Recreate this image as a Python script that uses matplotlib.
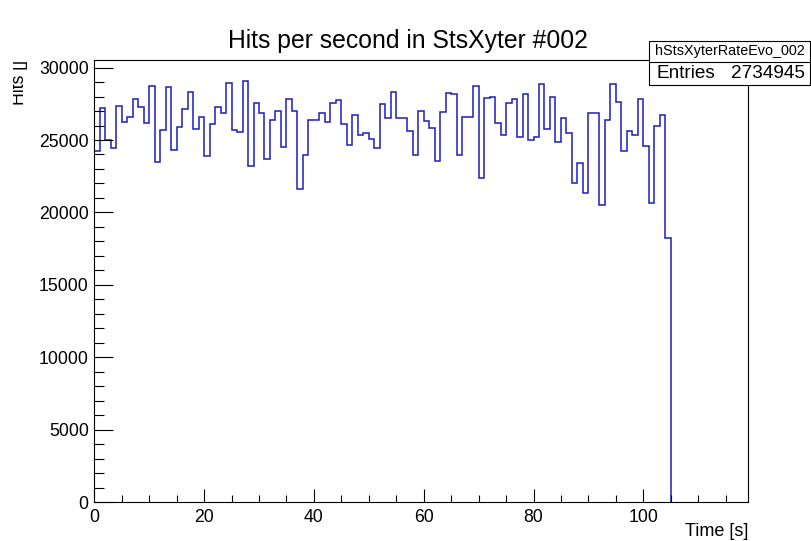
import numpy as np
import matplotlib
matplotlib.use('Agg')
import matplotlib.pyplot as plt
from matplotlib.ticker import MultipleLocator
from matplotlib.transforms import Bbox, TransformedBbox

# hits counted in each 1 s bin
hits = [24270, 27190, 25000, 24470, 27350, 26240, 26570, 27830, 27280, 26150,
        28750, 23510, 25670, 28640, 24310, 25920, 27120, 28320, 25740, 26570,
        23900, 26080, 27280, 26840, 28960, 25670, 25530, 29050, 23230, 27580,
        26840, 23670, 26380, 27030, 24540, 27830, 27030, 21600, 23970, 26380,
        26380, 26890, 26240, 27530, 27760, 26080, 24680, 26700, 25350, 25460,
        25070, 24470, 27460, 26540, 28340, 26540, 26540, 25650, 23970, 27030,
        26310, 25810, 23580, 26960, 28270, 28200, 23970, 26570, 26570, 28750,
        22360, 27920, 27990, 26150, 25350, 27530, 27830, 25230, 28180, 25000,
        25190, 28840, 25740, 27990, 24890, 26540, 25460, 22010, 23390, 21320,
        26890, 26840, 20520, 26380, 28840, 27600, 24240, 25650, 25350, 27830,
        24610, 20680, 25990, 26730, 18260]
bin_width = 1.0
hist_name = 'hStsXyterRateEvo_002'
entries = 2734945

plt.rcParams['font.family'] = ['Liberation Sans', 'DejaVu Sans']

fig = plt.figure(figsize=(8.11, 5.41), dpi=100)
ax = fig.add_axes([94.3 / 811, 1 - 502.3 / 541, (748 - 94.3) / 811, (502.3 - 60.3) / 541])

edges = np.arange(len(hits) + 1) * bin_width
ax.stairs(hits, edges, baseline=0, color='#1c1cc0', linewidth=1.1)

ax.set_xlim(0, 119.07)
ax.set_ylim(0, 30500)

ax.xaxis.set_major_locator(MultipleLocator(20))
ax.xaxis.set_minor_locator(MultipleLocator(5))
ax.yaxis.set_major_locator(MultipleLocator(5000))
ax.yaxis.set_minor_locator(MultipleLocator(1000))
ax.tick_params(axis='x', which='major', direction='in', length=9.5, width=0.8, pad=5, labelsize=12.7)
ax.tick_params(axis='x', which='minor', direction='in', length=5, width=0.8)
ax.tick_params(axis='y', which='major', direction='in', length=13.7, width=0.8, pad=4, labelsize=12.7)
ax.tick_params(axis='y', which='minor', direction='in', length=7, width=0.8)
for s in ax.spines.values():
    s.set_linewidth(0.8)

fig.text(0.503, 1 - 41 / 541, 'Hits per second in StsXyter #002', ha='center', va='center', fontsize=17.8)
fig.text(748 / 811, 1 - 532 / 541, 'Time [s]', ha='right', va='center', fontsize=13)

# y title sits partly outside the drawable area, so its top part is cut off
yl = fig.text(11 / 811, 1 - 60 / 541, 'Hits []', rotation=90, ha='left', va='top', fontsize=12.7)
yl.set_clip_box(TransformedBbox(Bbox([[13 / 811, 0], [1, 1]]), fig.transFigure))
yl.set_clip_on(True)

# stats box
bx0, bx1 = 649 / 811, 810 / 811
by_top, by_mid, by_bot = 1 - 41 / 541, 1 - 62 / 541, 1 - 85 / 541
fig.patches.append(plt.Rectangle((bx0, by_bot), bx1 - bx0, by_top - by_bot, transform=fig.transFigure,
                                 facecolor='white', edgecolor='black', linewidth=0.8))
fig.lines.append(plt.Line2D([bx0, bx1], [by_mid, by_mid], transform=fig.transFigure, color='black', linewidth=0.8))
fig.text((bx0 + bx1) / 2, (by_top + by_mid) / 2, hist_name, ha='center', va='center', fontsize=10.4)
fig.text(bx0 + 7 / 811, (by_mid + by_bot) / 2, 'Entries', ha='left', va='center', fontsize=13.7)
fig.text(bx1 - 5 / 811, (by_mid + by_bot) / 2, str(entries), ha='right', va='center', fontsize=13.7)

fig.savefig('out.png', dpi=100)
